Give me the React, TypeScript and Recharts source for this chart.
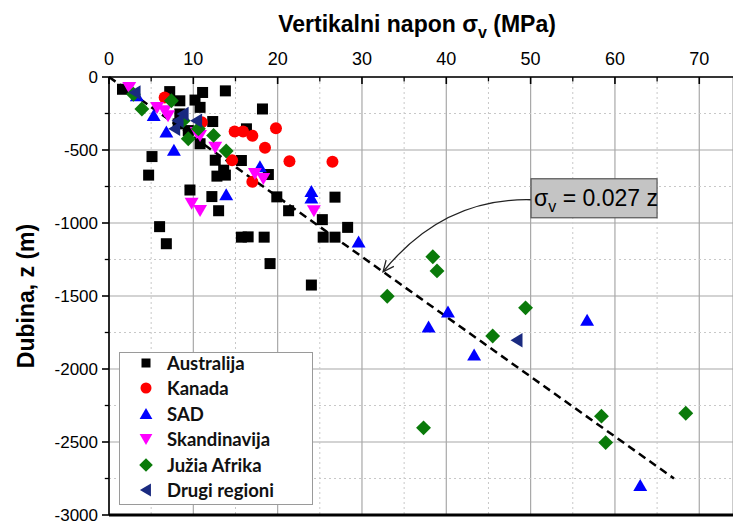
import React from 'react';
import {
  ScatterChart, Scatter, XAxis, YAxis, CartesianGrid, ReferenceLine, ReferenceDot, Legend, Label,
} from 'recharts';

// ---------- data ----------
const australija = [
  [1.6, -84], [7.2, -100], [8.4, -163], [10.2, -158], [11.1, -106], [10.8, -208], [13.8, -95], [18.2, -219],
  [8.4, -253], [8.2, -321], [9.4, -367], [12.3, -305], [10.8, -457], [16.3, -355], [5.1, -545], [4.7, -672],
  [12.6, -570], [15.7, -572], [12.8, -679], [13.6, -638], [13.8, -672], [9.6, -774], [12.2, -819], [13.0, -916],
  [18.9, -668], [19.9, -821], [21.3, -916], [26.8, -823], [25.3, -977], [28.3, -1030], [25.4, -1097], [26.8, -1097],
  [6.0, -1025], [6.8, -1142], [15.7, -1097], [16.5, -1095], [18.4, -1097], [19.1, -1278], [24.0, -1425],
];
const kanada = [
  [6.6, -140], [11.0, -310], [14.9, -373], [15.9, -373], [17.0, -403], [19.8, -351], [18.5, -484], [21.4, -577],
  [14.6, -570], [17.0, -717], [26.5, -581],
];
const sad = [
  [3.3, -129], [5.3, -265], [6.8, -378], [7.7, -502], [13.9, -808], [17.9, -616], [24.0, -785], [24.0, -830],
  [29.6, -1131], [40.2, -1611], [37.9, -1713], [56.7, -1667], [43.3, -1905], [63.0, -2798],
];
const skandinavija = [
  [2.4, -72], [5.7, -208], [6.6, -231], [7.0, -265], [10.4, -380], [10.8, -400], [12.6, -480], [17.3, -661],
  [18.3, -694], [9.8, -864], [10.8, -914], [24.3, -915],
];
const juzniAfrika = [
  [2.9, -118], [3.9, -219], [7.4, -163], [8.8, -299], [9.4, -423], [10.6, -355], [12.4, -400], [13.9, -507],
  [38.4, -1231], [38.9, -1328], [33.0, -1502], [49.4, -1581], [45.5, -1774], [37.3, -2403], [58.4, -2323],
  [58.9, -2504], [68.4, -2303],
];
const drugiRegioni = [
  [3.1, -106], [8.8, -253], [8.2, -299], [7.8, -355], [10.4, -299], [48.4, -1803],
];

const xTicks = [0, 10, 20, 30, 40, 50, 60, 70];
const yTicks = [-3000, -2500, -2000, -1500, -1000, -500, 0];
const xMinor = [5, 15, 25, 35, 45, 55, 65];
const yMinor = [-2750, -2250, -1750, -1250, -750, -250];
const trendStart = { x: 0, y: 0 };
const trendEnd = { x: 67, y: -2750 };
const arrowTip = { x: 32.5, y: -1334 };

const toPts = (arr: number[][]) => arr.map(([x, y]) => ({ x, y }));

type Kind = 'square' | 'circle' | 'up' | 'down' | 'diamond' | 'left';
const series: { name: string; data: number[][]; color: string; kind: Kind }[] = [
  { name: 'Australija', data: australija, color: '#000000', kind: 'square' },
  { name: 'Kanada', data: kanada, color: '#ff0000', kind: 'circle' },
  { name: 'SAD', data: sad, color: '#0000ff', kind: 'up' },
  { name: 'Skandinavija', data: skandinavija, color: '#ff00ff', kind: 'down' },
  { name: 'Južia Afrika', data: juzniAfrika, color: '#0a7a0a', kind: 'diamond' },
  { name: 'Drugi regioni', data: drugiRegioni, color: '#1a2a80', kind: 'left' },
];

const FONT = '"Liberation Sans", Arial, sans-serif';

function markerEl(kind: Kind, cx: number, cy: number, s: number, color: string) {
  switch (kind) {
    case 'square':
      return <rect x={cx - s / 2} y={cy - s / 2} width={s} height={s} fill={color} />;
    case 'circle':
      return <circle cx={cx} cy={cy} r={s / 2} fill={color} />;
    case 'up':
      return <polygon points={`${cx},${cy - s * 0.55} ${cx + s * 0.58},${cy + s * 0.45} ${cx - s * 0.58},${cy + s * 0.45}`} fill={color} />;
    case 'down':
      return <polygon points={`${cx},${cy + s * 0.55} ${cx + s * 0.58},${cy - s * 0.45} ${cx - s * 0.58},${cy - s * 0.45}`} fill={color} />;
    case 'diamond':
      return <polygon points={`${cx},${cy - s * 0.62} ${cx + s * 0.62},${cy} ${cx},${cy + s * 0.62} ${cx - s * 0.62},${cy}`} fill={color} />;
    case 'left':
      return <polygon points={`${cx - s * 0.55},${cy} ${cx + s * 0.45},${cy - s * 0.6} ${cx + s * 0.45},${cy + s * 0.6}`} fill={color} />;
  }
}

const makeShape = (kind: Kind, color: string) => (props: any) => {
  const { cx, cy } = props;
  if (cx == null || cy == null) return <g />;
  const s = kind === 'square' ? 11 : 12;
  return markerEl(kind, cx, cy, s, color);
};

const LegendBox = () => (
  <div
    style={{
      position: 'relative', width: 194, height: 153, boxSizing: 'border-box',
      border: '1px solid #9a9a9a', background: '#fff',
    }}
  >
    {series.map((s, i) => (
      <div
        key={s.name}
        style={{
          position: 'absolute', left: 0, top: 10 + i * 25.4 - 13, height: 26, width: 190,
        }}
      >
        <svg width={20} height={20} style={{ position: 'absolute', left: 16, top: 3 }}>
          {markerEl(s.kind, 10, 10, s.kind === 'square' ? 9 : 11, s.color)}
        </svg>
        <span
          style={{
            position: 'absolute', left: 47, top: 0, lineHeight: '26px', whiteSpace: 'nowrap',
            fontFamily: 'Lato, "Open Sans", sans-serif', fontWeight: 700, fontSize: 18.5, color: '#111',
          }}
        >
          {s.name}
        </span>
      </div>
    ))}
  </div>
);

const TitleLabel = (props: any) => {
  const vb = props.viewBox || { x: 109, y: 47, width: 624 };
  return (
    <text x={vb.x + vb.width / 2 - 4} y={vb.y - 15} textAnchor="middle" fontFamily={FONT} fontWeight={700} fontSize={23} fill="#000">
      <tspan>Vertikalni napon σ</tspan>
      <tspan dy={6} fontSize={16}>v</tspan>
      <tspan dy={-6}> (MPa)</tspan>
    </text>
  );
};

const YTitle = (props: any) => {
  const vb = props.viewBox || { x: 49, y: 77, height: 439 };
  const cy = vb.y + vb.height / 2;
  const cx = 34;
  return (
    <text x={cx} y={cy} transform={`rotate(-90 ${cx} ${cy})`} textAnchor="middle" fontFamily={FONT} fontWeight={700} fontSize={23} fill="#000">
      Dubina, z (m)
    </text>
  );
};

const Annotation = (props: any) => {
  const { cx, cy } = props;
  if (cx == null) return <g />;
  const bx = cx + 148, by = cy - 93;
  const sx = cx + 148, sy = cy - 72;
  const c1x = cx + 60, c1y = cy - 74;
  const dx = cx - c1x, dy = cy - c1y;
  const len = Math.sqrt(dx * dx + dy * dy);
  const ux = dx / len, uy = dy / len;
  const ah = 11, aw = 5;
  const p1x = cx - ux * ah - uy * aw, p1y = cy - uy * ah + ux * aw;
  const p2x = cx - ux * ah + uy * aw, p2y = cy - uy * ah - ux * aw;
  return (
    <g>
      <path d={`M${sx},${sy} Q${c1x},${c1y} ${cx},${cy}`} fill="none" stroke="#222" strokeWidth={1.3} />
      <path d={`M${p1x},${p1y} L${cx},${cy} L${p2x},${p2y}`} fill="none" stroke="#222" strokeWidth={1.3} />
      <rect x={bx} y={by} width={126} height={39} fill="#c4c4c4" stroke="#555" strokeWidth={1.2} />
      <text x={bx + 3} y={by + 27} fontFamily={FONT} fontSize={23} fill="#000">
        <tspan>σ</tspan>
        <tspan dy={6} fontSize={16}>v</tspan>
        <tspan dy={-6}> = 0.027 z</tspan>
      </text>
    </g>
  );
};

export default function App() {
  return (
    <div style={{ width: 733, height: 525, position: 'relative', background: '#fff' }}>
      <style>{'body{margin:0;background:#fff}'}</style>
      <ScatterChart width={733} height={525} margin={{ top: 47, right: 0, bottom: 10, left: 49 }}>
        <CartesianGrid stroke="#a8a8a8" strokeWidth={1.2} horizontal vertical />
        {xMinor.map((v) => (
          <ReferenceLine key={'vx' + v} x={v} stroke="#c8c8c8" strokeDasharray="2 3" strokeWidth={1} />
        ))}
        {yMinor.map((v) => (
          <ReferenceLine key={'hy' + v} y={v} stroke="#c8c8c8" strokeDasharray="2 3" strokeWidth={1} />
        ))}
        {xMinor.map((v) => (
          <ReferenceLine key={'tx' + v} segment={[{ x: v, y: 0 }, { x: v, y: -30 }]} stroke="#000" strokeWidth={1.3} />
        ))}
        {yMinor.map((v) => (
          <ReferenceLine key={'ty' + v} segment={[{ x: -0.5, y: v }, { x: 0, y: v }]} stroke="#000" strokeWidth={1.3} ifOverflow="visible" />
        ))}
        <XAxis
          xAxisId={0}
          type="number"
          dataKey="x"
          orientation="top"
          domain={[0, 74]}
          ticks={xTicks}
          interval={0}
          allowDataOverflow
          height={30}
          tickSize={-7}
          tickMargin={19}
          axisLine={{ stroke: '#000', strokeWidth: 1.6 }}
          tickLine={{ stroke: '#000', strokeWidth: 1.6 }}
          tick={{ fontFamily: FONT, fontSize: 18, fill: '#000' }}
        >
          <Label content={<TitleLabel />} />
        </XAxis>
        <YAxis
          yAxisId={0}
          type="number"
          dataKey="y"
          domain={[-3000, 0]}
          ticks={yTicks}
          interval={0}
          allowDataOverflow
          width={60}
          tickSize={7}
          tickMargin={4}
          axisLine={{ stroke: '#000', strokeWidth: 1.6 }}
          tickLine={{ stroke: '#000', strokeWidth: 1.6 }}
          tick={{ fontFamily: FONT, fontSize: 17, fill: '#000' }}
        >
          <Label content={<YTitle />} />
        </YAxis>
        <ReferenceLine y={-3000} stroke="#000" strokeWidth={3} ifOverflow="visible" />
        {series.map((s) => (
          <Scatter
            key={s.name}
            name={s.name}
            data={toPts(s.data)}
            fill={s.color}
            shape={makeShape(s.kind, s.color)}
            isAnimationActive={false}
          />
        ))}
        <ReferenceLine
          segment={[trendStart, trendEnd]}
          stroke="#000"
          strokeWidth={2.5}
          strokeDasharray="8 5"
        />
        <ReferenceDot x={arrowTip.x} y={arrowTip.y} r={0} shape={<Annotation />} ifOverflow="visible" />
        <Legend
          layout="vertical"
          align="center"
          verticalAlign="middle"
          wrapperStyle={{ left: 119, top: 352, width: 194, height: 153 }}
          content={<LegendBox />}
        />
      </ScatterChart>
    </div>
  );
}
